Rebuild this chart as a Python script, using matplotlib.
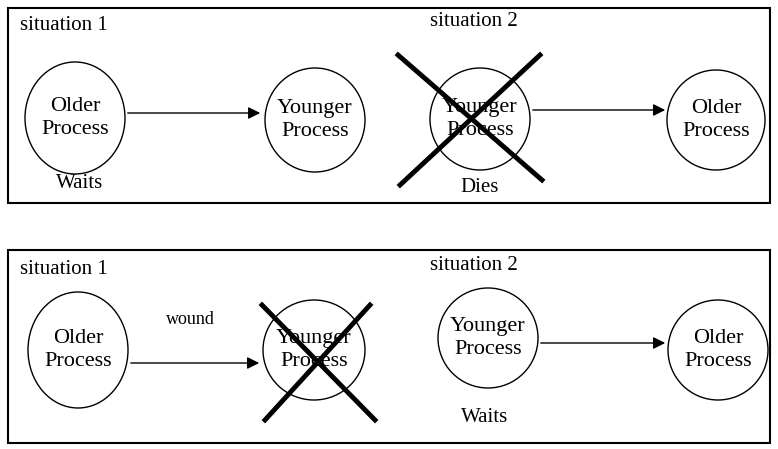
import matplotlib.pyplot as plt
from matplotlib.patches import Ellipse, Rectangle

plt.rcParams['font.family'] = ['Liberation Serif', 'DejaVu Serif']

# panel boxes: (x, y, w, h) in pixel units
boxes = [(8, 8, 762, 195), (8, 250, 762, 193)]
# nodes: label, cx, cy, rx, ry
nodes = [("Older\nProcess", 75, 118, 50, 56),
         ("Younger\nProcess", 315, 120, 50, 52),
         ("Younger\nProcess", 480, 119, 50, 51),
         ("Older\nProcess", 716, 120, 49, 50),
         ("Older\nProcess", 78, 350, 50, 58),
         ("Younger\nProcess", 314, 350, 51, 50),
         ("Younger\nProcess", 488, 338, 50, 50),
         ("Older\nProcess", 718, 350, 50, 50)]
arrows = [(125, 113, 263, 113), (530, 110, 668, 110),
          (128, 363, 262, 363), (538, 343, 668, 343)]
crosses = [(398, 55, 542, 180, 540, 55, 400, 185),
           (262, 305, 375, 420, 370, 305, 265, 420)]
labels = [("situation 1", 20, 25, 15), ("situation 2", 430, 22, 15),
          ("Waits", 80, 183, 15), ("Dies", 480, 187, 15),
          ("situation 1", 20, 270, 15), ("situation 2", 430, 265, 15),
          ("wound", 190, 320, 13), ("Waits", 485, 417, 15)]

fig = plt.figure(figsize=(7.78, 4.49), dpi=100)
ax = fig.add_axes([0, 0, 1, 1])
ax.set_xlim(0, 778)
ax.set_ylim(449, 0)
ax.axis('off')

for x, y, w, h in boxes:
    ax.add_patch(Rectangle((x, y), w, h, fill=False, lw=1.5, ec='black'))

for text, cx, cy, rx, ry in nodes:
    ax.add_patch(Ellipse((cx, cy), 2 * rx, 2 * ry, fill=False, lw=1, ec='black'))
    ax.text(cx, cy, text, ha='center', va='center', fontsize=16, linespacing=1.25)

for x0, y0, x1, y1 in arrows:
    ax.annotate("", xy=(x1, y1), xytext=(x0, y0),
                arrowprops=dict(arrowstyle='-|>', color='black', lw=1, mutation_scale=18))

for a in crosses:
    ax.plot([a[0], a[2]], [a[1], a[3]], color='black', lw=3.5)
    ax.plot([a[4], a[6]], [a[5], a[7]], color='black', lw=3.5)

for text, x, y, fs in labels:
    ax.text(x, y, text, ha='left' if 'situation' in text else 'center',
            va='center', fontsize=fs)

plt.savefig("out.png", dpi=100)
